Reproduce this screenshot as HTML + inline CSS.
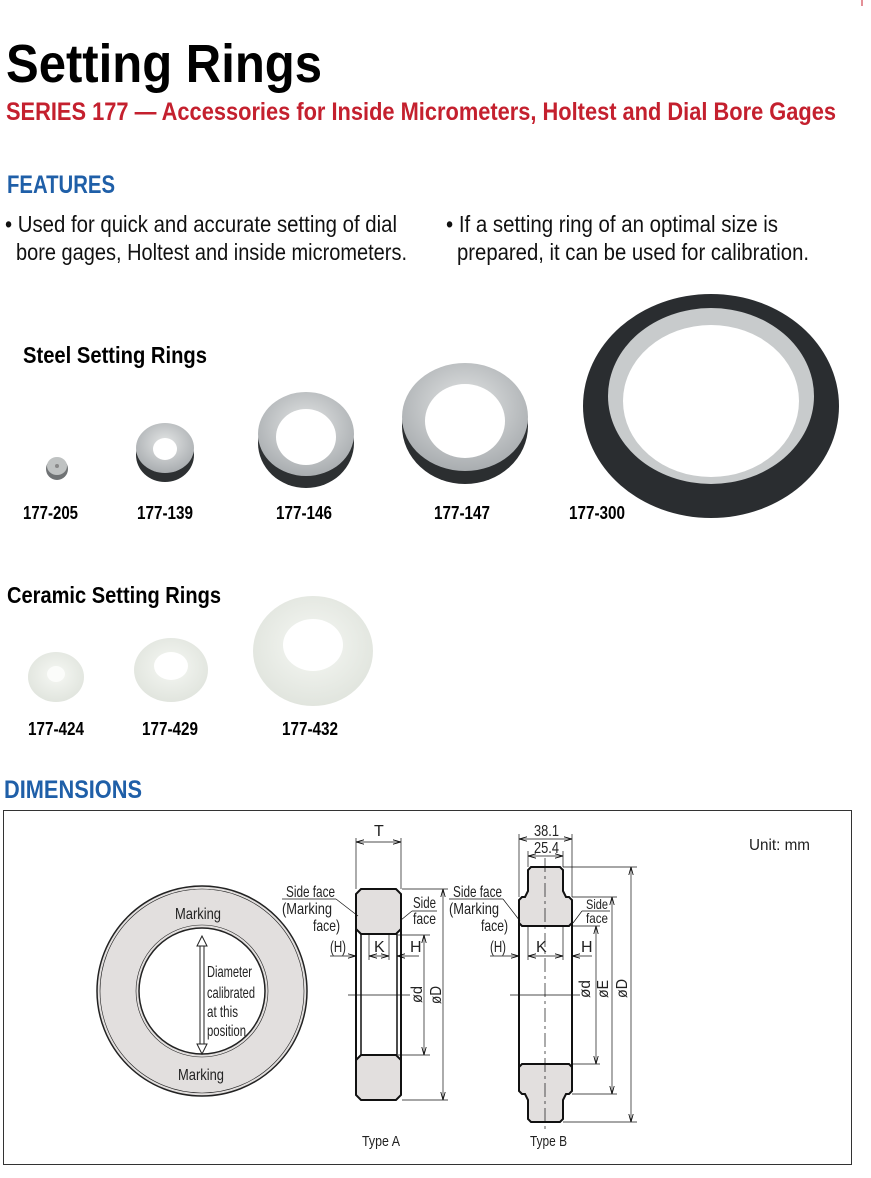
<!DOCTYPE html>
<html><head><meta charset="utf-8"><style>
html,body{margin:0;padding:0;background:#fff;}
svg{display:block;}
text{font-family:"Liberation Sans Narrow","Liberation Sans",sans-serif;}
</style></head><body>
<svg width="871" height="1178" viewBox="0 0 871 1178" xmlns="http://www.w3.org/2000/svg">
<defs>
<radialGradient id="steel" cx="50%" cy="40%" r="60%"><stop offset="0" stop-color="#e4e6e6"/><stop offset="1" stop-color="#a9adb0"/></radialGradient>
<radialGradient id="cer" cx="50%" cy="45%" r="60%"><stop offset="0" stop-color="#f6f8f4"/><stop offset="1" stop-color="#dfe3dc"/></radialGradient>
<marker id="ar" markerWidth="8" markerHeight="6" refX="8" refY="3" orient="auto-start-reverse" markerUnits="userSpaceOnUse"><path d="M0,0.8 L8,3 L0,5.2" fill="none" stroke="#000" stroke-width="0.8"/></marker>
</defs>
<line x1="862" y1="0" x2="862" y2="6" stroke="#c8202f" stroke-width="1"/>
<text x="6" y="82" font-size="54" font-weight="bold" textLength="316" lengthAdjust="spacingAndGlyphs">Setting Rings</text>
<text x="6" y="120" font-size="25" font-weight="bold" fill="#c4202e" textLength="830" lengthAdjust="spacingAndGlyphs">SERIES 177 — Accessories for Inside Micrometers, Holtest and Dial Bore Gages</text>
<text x="7" y="193" font-size="25" font-weight="bold" fill="#1f5fa8" textLength="108" lengthAdjust="spacingAndGlyphs">FEATURES</text>
<g font-size="23" fill="#111">
<text x="5" y="232" textLength="392" lengthAdjust="spacingAndGlyphs">• Used for quick and accurate setting of dial</text>
<text x="16" y="260" textLength="391" lengthAdjust="spacingAndGlyphs">bore gages, Holtest and inside micrometers.</text>
<text x="446" y="232" textLength="332" lengthAdjust="spacingAndGlyphs">• If a setting ring of an optimal size is</text>
<text x="457" y="260" textLength="352" lengthAdjust="spacingAndGlyphs">prepared, it can be used for calibration.</text>
</g>
<text x="23" y="363" font-size="23" font-weight="bold" textLength="184" lengthAdjust="spacingAndGlyphs">Steel Setting Rings</text>
<ellipse cx="57" cy="469" rx="11" ry="11" fill="#6f7274"/><ellipse cx="57" cy="466" rx="10" ry="9" fill="#bfc2c2"/><circle cx="57" cy="466" r="2" fill="#888"/>
<ellipse cx="165" cy="455" rx="29" ry="27" fill="#2d3032"/><ellipse cx="165" cy="448" rx="29" ry="25" fill="url(#steel)"/><ellipse cx="165" cy="449" rx="12" ry="11" fill="#fff"/>
<ellipse cx="306" cy="443" rx="48" ry="45" fill="#2d3032"/><ellipse cx="306" cy="434" rx="48" ry="42" fill="url(#steel)"/><ellipse cx="306" cy="437" rx="30" ry="28" fill="#fff"/>
<ellipse cx="465" cy="426" rx="63" ry="58" fill="#2b2e30"/><ellipse cx="465" cy="417" rx="63" ry="54" fill="url(#steel)"/><ellipse cx="465" cy="421" rx="40" ry="37" fill="#fff"/>
<ellipse cx="711" cy="406" rx="128" ry="112" fill="#2a2d30"/><ellipse cx="711" cy="396" rx="103" ry="88" fill="#c8cbcc"/><ellipse cx="711" cy="401" rx="88" ry="76" fill="#fff"/>
<g font-size="18" font-weight="bold">
<text x="23" y="519" textLength="55" lengthAdjust="spacingAndGlyphs">177-205</text>
<text x="137" y="519" textLength="56" lengthAdjust="spacingAndGlyphs">177-139</text>
<text x="276" y="519" textLength="56" lengthAdjust="spacingAndGlyphs">177-146</text>
<text x="434" y="519" textLength="56" lengthAdjust="spacingAndGlyphs">177-147</text>
<text x="569" y="519" textLength="56" lengthAdjust="spacingAndGlyphs">177-300</text>
</g>
<text x="7" y="603" font-size="23" font-weight="bold" textLength="214" lengthAdjust="spacingAndGlyphs">Ceramic Setting Rings</text>
<ellipse cx="56" cy="677" rx="28" ry="25" fill="url(#cer)"/><ellipse cx="56" cy="674" rx="9" ry="8" fill="#fbfcfa"/>
<ellipse cx="171" cy="670" rx="37" ry="32" fill="url(#cer)"/><ellipse cx="171" cy="666" rx="17" ry="14" fill="#fff"/>
<ellipse cx="313" cy="651" rx="60" ry="55" fill="url(#cer)"/><ellipse cx="313" cy="645" rx="30" ry="26" fill="#fff"/>
<g font-size="18" font-weight="bold">
<text x="28" y="735" textLength="56" lengthAdjust="spacingAndGlyphs">177-424</text>
<text x="142" y="735" textLength="56" lengthAdjust="spacingAndGlyphs">177-429</text>
<text x="282" y="735" textLength="56" lengthAdjust="spacingAndGlyphs">177-432</text>
</g>
<text x="4" y="798" font-size="25" font-weight="bold" fill="#1f5fa8" textLength="138" lengthAdjust="spacingAndGlyphs">DIMENSIONS</text>
<rect x="3.5" y="810.5" width="848" height="354" fill="none" stroke="#333" stroke-width="1"/>
<text x="749" y="850" font-size="16" fill="#222" textLength="61" lengthAdjust="spacingAndGlyphs">Unit: mm</text>
<circle cx="202" cy="991" r="105" fill="#e2dfde" stroke="#222" stroke-width="1.5"/>
<circle cx="202" cy="991" r="102" fill="none" stroke="#222" stroke-width="0.6"/>
<circle cx="202" cy="991" r="66" fill="none" stroke="#222" stroke-width="0.6"/>
<circle cx="202" cy="991" r="63" fill="#fff" stroke="#222" stroke-width="1.5"/>
<g font-size="16" fill="#222">
<text x="175" y="919" textLength="46" lengthAdjust="spacingAndGlyphs">Marking</text><text x="178" y="1080" textLength="46" lengthAdjust="spacingAndGlyphs">Marking</text>
<text x="207" y="977" textLength="45" lengthAdjust="spacingAndGlyphs">Diameter</text><text x="207" y="998" textLength="48" lengthAdjust="spacingAndGlyphs">calibrated</text><text x="207" y="1017" textLength="31" lengthAdjust="spacingAndGlyphs">at this</text><text x="207" y="1036" textLength="39" lengthAdjust="spacingAndGlyphs">position</text>
</g>
<path d="M200,946 V1044 M204,946 V1044" stroke="#222" stroke-width="1"/>
<path d="M202,936 L197,946 L207,946 Z M202,1054 L197,1044 L207,1044 Z" fill="#fff" stroke="#222" stroke-width="1"/>
<g stroke="#111" fill="#e2dfde">
<path d="M361,889 H396 L401,894 V929 L396,934 H361 L356,929 V894 Z" stroke-width="2"/>
<path d="M361,1055 H396 L401,1060 V1095 L396,1100 H361 L356,1095 V1060 Z" stroke-width="2"/>
<path d="M356,929 V1060 M401,929 V1060" stroke-width="2" fill="none"/>
<path d="M361,934 V1055 M397,934 V1055" stroke-width="1.5" fill="none"/>
</g>
<g stroke="#111" stroke-width="0.7" fill="none">
<line x1="348" y1="995" x2="410" y2="995"/>
<line x1="356" y1="838" x2="356" y2="889"/><line x1="401" y1="838" x2="401" y2="889"/>
<line x1="356" y1="842" x2="401" y2="842" marker-start="url(#ar)" marker-end="url(#ar)"/>
<line x1="402" y1="889" x2="448" y2="889"/><line x1="402" y1="1100" x2="448" y2="1100"/>
<line x1="398" y1="935" x2="430" y2="935"/><line x1="398" y1="1055" x2="430" y2="1055"/>
<line x1="424" y1="935" x2="424" y2="1055" marker-start="url(#ar)" marker-end="url(#ar)"/>
<line x1="443" y1="889" x2="443" y2="1100" marker-start="url(#ar)" marker-end="url(#ar)"/>
<line x1="330" y1="956" x2="356" y2="956" marker-end="url(#ar)"/>
<line x1="369" y1="935" x2="369" y2="960"/><line x1="389" y1="935" x2="389" y2="960"/>
<line x1="369" y1="956" x2="389" y2="956" marker-start="url(#ar)" marker-end="url(#ar)"/>
<line x1="419" y1="956" x2="397" y2="956" marker-end="url(#ar)"/>
<line x1="282" y1="899" x2="336" y2="899"/><path d="M336,899 L358,916"/>
<line x1="412" y1="911" x2="437" y2="911"/><path d="M412,911 L401,920"/>
</g>
<g font-size="16" fill="#222">
<text x="374" y="836">T</text>
<text x="286" y="897" textLength="49" lengthAdjust="spacingAndGlyphs">Side face</text><text x="282" y="914" textLength="50" lengthAdjust="spacingAndGlyphs">(Marking</text><text x="313" y="931" textLength="27" lengthAdjust="spacingAndGlyphs">face)</text>
<text x="413" y="908" textLength="23" lengthAdjust="spacingAndGlyphs">Side</text><text x="413" y="924" textLength="23" lengthAdjust="spacingAndGlyphs">face</text>
<text x="330" y="952" textLength="16" lengthAdjust="spacingAndGlyphs">(H)</text><text x="374" y="952">K</text><text x="410" y="952">H</text>
<text transform="translate(422,1003) rotate(-90)" textLength="17" lengthAdjust="spacingAndGlyphs">ød</text>
<text transform="translate(441,1004) rotate(-90)" textLength="18" lengthAdjust="spacingAndGlyphs">øD</text>
<text x="362" y="1146" font-size="15" textLength="38" lengthAdjust="spacingAndGlyphs">Type A</text>
</g>
<g stroke="#111" stroke-width="2" fill="#e2dfde">
<path d="M531,867 H560 L563,870 V891 L566,897 H569 L572,900 V923 L569,926 H522 L519,923 V900 L522,897 H525 L528,891 V870 Z"/>
<path d="M522,1064 H569 L572,1067 V1091 L569,1094 H566 L563,1100 V1119 L560,1122 H531 L528,1119 V1100 L525,1094 H522 L519,1091 V1067 Z"/>
<path d="M519,923 V1067 M572,923 V1067" fill="none"/>
</g>
<g stroke="#111" stroke-width="0.7" fill="none">
<line x1="545" y1="858" x2="545" y2="1132" stroke-dasharray="14,4,3,4"/>
<line x1="510" y1="995" x2="580" y2="995"/>
<line x1="519" y1="834" x2="519" y2="897"/><line x1="572" y1="834" x2="572" y2="897"/>
<line x1="519" y1="839" x2="572" y2="839" marker-start="url(#ar)" marker-end="url(#ar)"/>
<line x1="528" y1="851" x2="528" y2="867"/><line x1="563" y1="851" x2="563" y2="867"/>
<line x1="528" y1="856" x2="563" y2="856" marker-start="url(#ar)" marker-end="url(#ar)"/>
<line x1="563" y1="867" x2="637" y2="867"/><line x1="563" y1="1122" x2="637" y2="1122"/>
<line x1="572" y1="897" x2="617" y2="897"/><line x1="572" y1="1094" x2="617" y2="1094"/>
<line x1="572" y1="926" x2="600" y2="926"/><line x1="572" y1="1064" x2="600" y2="1064"/>
<line x1="596" y1="926" x2="596" y2="1064" marker-start="url(#ar)" marker-end="url(#ar)"/>
<line x1="612" y1="897" x2="612" y2="1094" marker-start="url(#ar)" marker-end="url(#ar)"/>
<line x1="631" y1="867" x2="631" y2="1122" marker-start="url(#ar)" marker-end="url(#ar)"/>
<line x1="490" y1="956" x2="519" y2="956" marker-end="url(#ar)"/>
<line x1="528" y1="926" x2="528" y2="960"/><line x1="563" y1="926" x2="563" y2="960"/>
<line x1="528" y1="956" x2="563" y2="956" marker-start="url(#ar)" marker-end="url(#ar)"/>
<line x1="592" y1="956" x2="572" y2="956" marker-end="url(#ar)"/>
<line x1="449" y1="899" x2="503" y2="899"/><path d="M503,899 L520,921"/>
<line x1="582" y1="911" x2="610" y2="911"/><path d="M582,911 L573,923"/>
</g>
<g font-size="16" fill="#222">
<text x="534" y="836" textLength="25" lengthAdjust="spacingAndGlyphs">38.1</text><text x="534" y="853" textLength="25" lengthAdjust="spacingAndGlyphs">25.4</text>
<text x="453" y="897" textLength="49" lengthAdjust="spacingAndGlyphs">Side face</text><text x="449" y="914" textLength="50" lengthAdjust="spacingAndGlyphs">(Marking</text><text x="481" y="931" textLength="27" lengthAdjust="spacingAndGlyphs">face)</text>
<text x="586" y="909" font-size="14" textLength="22" lengthAdjust="spacingAndGlyphs">Side</text><text x="586" y="923" font-size="14" textLength="22" lengthAdjust="spacingAndGlyphs">face</text>
<text x="490" y="952" textLength="16" lengthAdjust="spacingAndGlyphs">(H)</text><text x="536" y="952">K</text><text x="581" y="952">H</text>
<text transform="translate(590,998) rotate(-90)" textLength="18" lengthAdjust="spacingAndGlyphs">ød</text>
<text transform="translate(608,998) rotate(-90)" textLength="18" lengthAdjust="spacingAndGlyphs">øE</text>
<text transform="translate(627,998) rotate(-90)" textLength="19" lengthAdjust="spacingAndGlyphs">øD</text>
<text x="530" y="1146" font-size="15" textLength="37" lengthAdjust="spacingAndGlyphs">Type B</text>
</g>
</svg>
</body></html>
